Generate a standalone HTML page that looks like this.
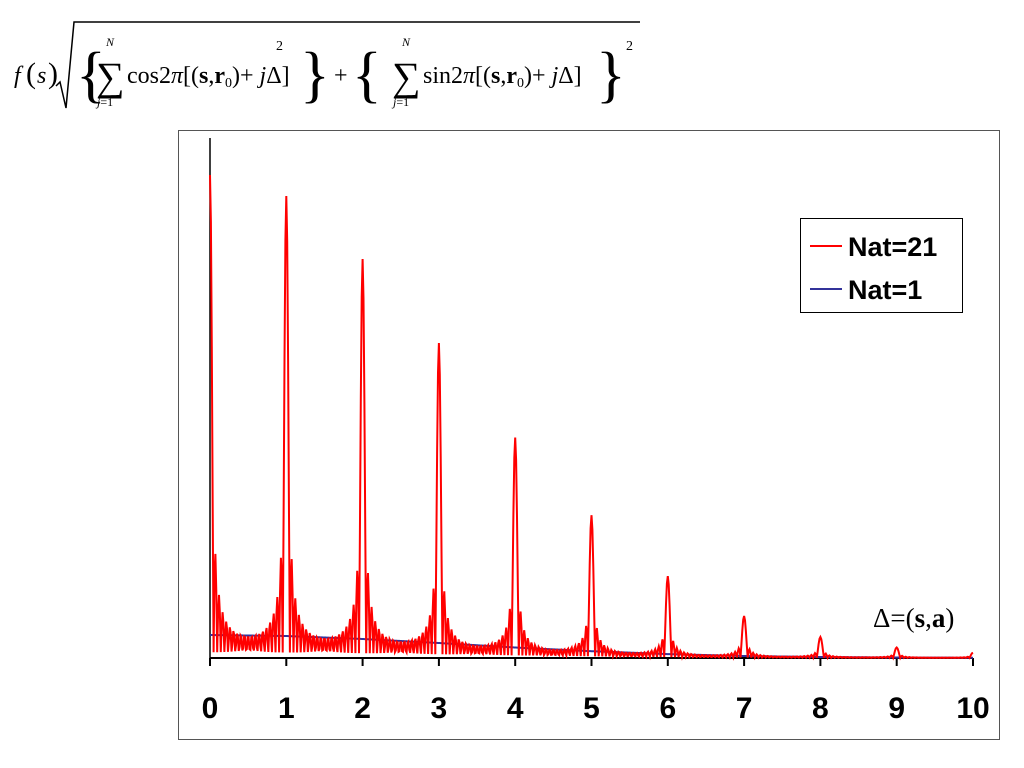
<!DOCTYPE html>
<html><head><meta charset="utf-8"><style>
body{margin:0;width:1024px;height:768px;background:#fff;position:relative;overflow:hidden;font-family:"Liberation Serif",serif}
</style></head><body>
<div style="position:absolute;left:0;top:0;width:640px;height:120px">
<svg width="640" height="120" style="position:absolute;left:0;top:0">
<text x="14" y="83" font-family="Liberation Serif" font-size="24" font-style="italic">f</text>
<text x="26" y="83" font-family="Liberation Serif" font-size="30">(</text>
<text x="37" y="83" font-family="Liberation Serif" font-size="24" font-style="italic">s</text>
<text x="48" y="83" font-family="Liberation Serif" font-size="30">)</text>
<polyline points="56,86 60,82 66,108 74,22 640,22" fill="none" stroke="#000" stroke-width="1.5"/>
<text x="76" y="95" font-family="Liberation Serif" font-size="62">{</text>
<text x="106" y="46" font-family="Liberation Serif" font-size="12" font-style="italic">N</text>
<text x="96" y="90" font-family="Liberation Serif" font-size="40">∑</text>
<text x="97" y="106" font-family="Liberation Serif" font-size="12"><tspan font-style="italic">j</tspan>=1</text>
<text x="127" y="83" font-family="Liberation Serif" font-size="24">cos2<tspan font-style="italic">π</tspan>[(<tspan font-weight="bold">s</tspan>,<tspan font-weight="bold">r</tspan><tspan font-size="14" dy="4">0</tspan><tspan dy="-4">)+ </tspan><tspan font-style="italic">j</tspan>Δ]</text>
<text x="300" y="95" font-family="Liberation Serif" font-size="62">}</text>
<text x="276" y="50" font-family="Liberation Serif" font-size="14">2</text>
<text x="334" y="83" font-family="Liberation Serif" font-size="24">+</text>
<text x="352" y="95" font-family="Liberation Serif" font-size="62">{</text>
<text x="402" y="46" font-family="Liberation Serif" font-size="12" font-style="italic">N</text>
<text x="392" y="90" font-family="Liberation Serif" font-size="40">∑</text>
<text x="393" y="106" font-family="Liberation Serif" font-size="12"><tspan font-style="italic">j</tspan>=1</text>
<text x="423" y="83" font-family="Liberation Serif" font-size="24">sin2<tspan font-style="italic">π</tspan>[(<tspan font-weight="bold">s</tspan>,<tspan font-weight="bold">r</tspan><tspan font-size="14" dy="4">0</tspan><tspan dy="-4">)+ </tspan><tspan font-style="italic">j</tspan>Δ]</text>
<text x="596" y="95" font-family="Liberation Serif" font-size="62">}</text>
<text x="626" y="50" font-family="Liberation Serif" font-size="14">2</text>
</svg></div>
<svg id="chart" width="1024" height="768" style="position:absolute;left:0;top:0">
<rect x="178.5" y="130.5" width="821" height="609" fill="none" stroke="#555" stroke-width="1"/>
<g id="axes"></g>
<path id="blue" fill="none" stroke="#33339a" stroke-width="2"/>
<path id="red" fill="none" stroke="#ff0000" stroke-width="2"/>
<g>
<rect x="800.5" y="218.5" width="162" height="94" fill="#fff" stroke="#000" stroke-width="1"/>
<line x1="810" y1="246" x2="842" y2="246" stroke="#ff0000" stroke-width="2"/>
<text x="848" y="256" font-family="Liberation Sans" font-weight="bold" font-size="27">Nat=21</text>
<line x1="810" y1="289" x2="842" y2="289" stroke="#33339a" stroke-width="2"/>
<text x="848" y="299" font-family="Liberation Sans" font-weight="bold" font-size="27">Nat=1</text>
</g>
<text x="873" y="627" font-family="Liberation Serif" font-size="27">Δ=(<tspan font-weight="bold">s</tspan>,<tspan font-weight="bold">a</tspan>)</text>
</svg>
<script>
const xTicks=[0,1,2,3,4,5,6,7,8,9,10];
const envelopeS=[0,1,2,3,4,5,6,7,8,9,10];
const envelopeNat1=[23,22,19,15,10.5,6.8,3.9,2,1,0.5,0.25];
const natCounts=[21,1];
const X0=210,X1=973,Y0=658,YTOP=138,VMAX=520;
const sx=v=>X0+(v-0)/(10-0)*(X1-X0);
const sy=v=>Y0-v/VMAX*(Y0-YTOP);
function env(s){let i=Math.min(Math.floor(s),envelopeS.length-2);let t=(s-envelopeS[i])/(envelopeS[i+1]-envelopeS[i]);return envelopeNat1[i]*(1-t)+envelopeNat1[i+1]*t;}
function interf(s,N){const d=Math.sin(Math.PI*s);if(Math.abs(d)<1e-9)return N;return Math.abs(Math.sin(N*Math.PI*s)/d);}
const ns="http://www.w3.org/2000/svg";
const ax=document.getElementById('axes');
function mk(t,a){const e=document.createElementNS(ns,t);for(const k in a)e.setAttribute(k,a[k]);ax.appendChild(e);return e;}
let yl=mk('line',{x1:X0,y1:YTOP,x2:X0,y2:Y0,stroke:'#000','stroke-width':1.5});


let xl=mk('line',{x1:X0,y1:Y0,x2:X1,y2:Y0,stroke:'#000','stroke-width':2});


xTicks.forEach(v=>{
 let t=mk('line',{x1:sx(v),y1:Y0,x2:sx(v),y2:Y0+8,stroke:'#000','stroke-width':2});
 
 
 let l=mk('text',{x:sx(v),y:718,'text-anchor':'middle','font-family':'Liberation Sans','font-weight':'bold','font-size':30});
 l.textContent=v;
 
 
});
let rd='',bd='';
const steps=850;
for(let k=0;k<=steps;k++){
 const s=10*k/steps;
 const e=env(s);
 rd+=(rd?'L':'M')+sx(s).toFixed(2)+','+sy(e*interf(s,natCounts[0])).toFixed(2);
 bd+=(bd?'L':'M')+sx(s).toFixed(2)+','+sy(e*natCounts[1]).toFixed(2);
}
document.getElementById('red').setAttribute('d',rd);
document.getElementById('blue').setAttribute('d',bd);
</script>
</body></html>
